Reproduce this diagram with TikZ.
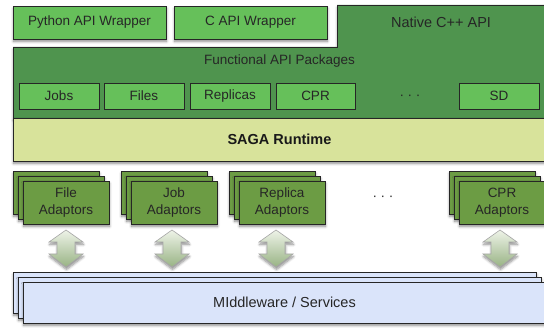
\documentclass[tikz,border=0pt]{standalone}
\usepackage{fontspec}
\setmainfont{Liberation Sans}
\usetikzlibrary{shadows.blur}
\definecolor{apigreen}{HTML}{66C05A}
\definecolor{coregreen}{HTML}{4F944E}
\definecolor{runtime}{HTML}{D8E39B}
\definecolor{adaptor}{HTML}{6C9C44}
\definecolor{mware}{HTML}{DAE4FA}
\definecolor{edge}{HTML}{262626}
\definecolor{arrtop}{HTML}{EEF3E8}
\definecolor{arrbot}{HTML}{98B384}
\tikzset{
  box/.style={draw=edge, line width=0.9pt},
  shade/.style={blur shadow={shadow blur steps=6, shadow xshift=0.5pt, shadow yshift=-2.5pt, shadow opacity=45, shadow blur radius=2.5pt}},
  lbl/.style={font=\fontsize{13.5}{16.5}\selectfont, text=black!85, align=center},
  big/.style={font=\fontsize{14.5}{17}\selectfont, text=black!85},
  bigb/.style={font=\fontsize{14.5}{17}\selectfont\bfseries, text=black!90},
}
\begin{document}
\begin{tikzpicture}[x=1pt,y=-1pt]
	\useasboundingbox (0,0) rectangle (544,328);
	% native C++ layer
	\draw[box, fill=coregreen, shade] (13,47) -- (337,47) -- (337,5) -- (546,5) -- (546,118) -- (13,118) -- cycle;
	\node[big] (cpp) at (441,22) {Native C++ API};
	\node[lbl] (func) at (279.5,61) {Functional API Packages};
	% packages
	\draw[box, fill=apigreen] (19,83) rectangle (99,109) node[pos=.5, lbl] (jobs) {Jobs};
	\draw[box, fill=apigreen] (104,83) rectangle (184,109) node[pos=.5, lbl] (files) {Files};
	\draw[box, fill=apigreen] (190,83) rectangle (270,109) node[pos=.5, lbl] (replicas) {Replicas};
	\draw[box, fill=apigreen] (276,83) rectangle (355,109) node[pos=.5, lbl] (cpr) {CPR};
	\draw[box, fill=apigreen] (459,83) rectangle (539,109) node[pos=.5, lbl] (sd) {SD};
	\node[lbl] (pdots) at (410,97) {· · ·};
	% wrappers
	\draw[box, fill=apigreen, shade] (13,6) rectangle (166,39) node[pos=.5, lbl] (py) {Python API Wrapper};
	\draw[box, fill=apigreen, shade] (174,6) rectangle (327,39) node[pos=.5, lbl] (capi) {C API Wrapper};
	% runtime
	\draw[box, fill=runtime, shade] (13,118) rectangle (546,161) node[pos=.5, bigb] (rt) {SAGA Runtime};
	% adaptors
	\foreach \x/\kind in {13/File,121/Job,229/Replica,449/CPR}{
		\draw[box, fill=adaptor, shade] (\x,171) rectangle ++(86,43);
		\draw[box, fill=adaptor, shade] (\x+5,176) rectangle ++(86,43);
		\draw[box, fill=adaptor, shade] (\x+10,181) rectangle ++(86,43) node[pos=.5, lbl] (\kind) {\kind\\Adaptors};
	}
	\node[lbl] (adots) at (383,198) {· · ·};
	% up/down arrows
	\foreach \x in {66,172,276,500}{
		\draw[draw=black!35, line width=0.6pt, top color=arrtop, bottom color=arrbot, shade] (\x,230) -- ++(17,12) -- ++(-8,0) -- ++(0,12) -- ++(8,0) -- (\x,267) -- ++(-17,-13) -- ++(8,0) -- ++(0,-12) -- ++(-8,0) -- cycle;
	}
	% middleware
	\draw[box, fill=mware, shade] (13,272) rectangle (536,313);
	\draw[box, fill=mware, shade] (18,277) rectangle (541,318);
	\draw[box, fill=mware, shade] (23,282) rectangle (546,323) node[pos=.5, big] (mw) {MIddleware / Services};
\end{tikzpicture}
\end{document}
